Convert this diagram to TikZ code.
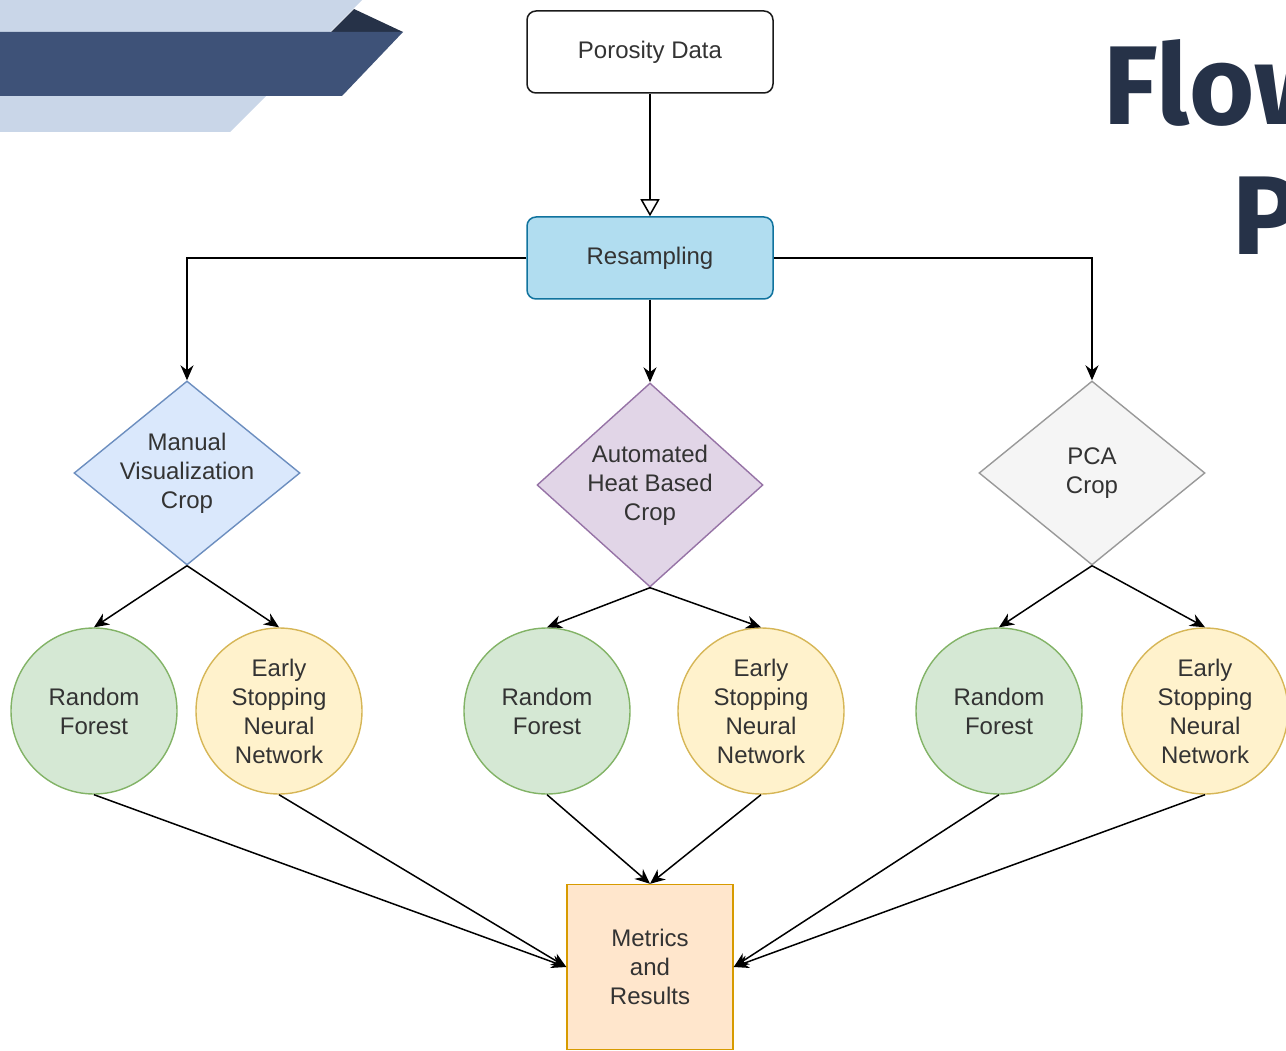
\documentclass[tikz,border=0pt]{standalone}
\usepackage{fontspec}
\setmainfont{Liberation Sans}
\newfontfamily\titlefont{Fira Sans}
\usetikzlibrary{positioning,shapes.geometric,arrows.meta}

\definecolor{bandlight}{HTML}{C9D6E8}
\definecolor{banddark}{HTML}{3E5278}
\definecolor{navy}{HTML}{263248}
\definecolor{txtgray}{HTML}{333333}
\definecolor{porline}{HTML}{1A1A1A}
\definecolor{resline}{HTML}{10739E}
\definecolor{resfill}{HTML}{B1DDF0}
\definecolor{manline}{HTML}{6C8EBF}
\definecolor{manfill}{HTML}{DAE8FC}
\definecolor{heatline}{HTML}{9673A6}
\definecolor{heatfill}{HTML}{E1D5E7}
\definecolor{pcaline}{HTML}{999999}
\definecolor{pcafill}{HTML}{F5F5F5}
\definecolor{rfline}{HTML}{82B366}
\definecolor{rffill}{HTML}{D5E8D4}
\definecolor{nnline}{HTML}{D6B656}
\definecolor{nnfill}{HTML}{FFF2CC}
\definecolor{metline}{HTML}{D79B00}
\definecolor{metfill}{HTML}{FFE6CC}

\begin{document}
\begin{tikzpicture}[x=1pt,y=-1pt]
\tikzset{
  txt/.style={font=\fontsize{24}{29}\selectfont, text=txtgray, align=center},
  rbox/.style={draw=#1, line width=1.5pt, rounded corners=9pt, minimum width=246pt, minimum height=82pt, txt},
  crop/.style={diamond, draw=#1, line width=1.4pt, minimum width=226pt, minimum height=184pt, inner sep=0pt},
  model/.style={circle, draw=#1, line width=1.4pt, minimum size=166pt, inner sep=0pt, txt},
  conn/.style={line width=1.5pt, -{Stealth[length=15pt,width=13pt]}}
}
\useasboundingbox (0,0) rectangle (1286,1051);
\clip (0,0) rectangle (1286,1051);

% banner
\fill[bandlight] (0,0) -- (362,0) -- (230,132) -- (0,132) -- cycle;
\fill[navy] (331,32) -- (354,9) -- (403,32) -- cycle;
\fill[banddark] (0,32) -- (403,32) -- (342,96) -- (0,96) -- cycle;
\node[anchor=base west, inner sep=0pt, text=navy, font=\titlefont\bfseries\fontsize{112}{112}\selectfont] (ttl1) at (1103,125) {Flow};
\node[anchor=base west, inner sep=0pt, text=navy, font=\titlefont\bfseries\fontsize{112}{112}\selectfont] (ttl2) at (1232,255) {P};

\node[rbox=porline, fill=white] (por) at (650,52) {Porosity Data};
\node[rbox=resline, fill=resfill] (res) at (650,258) {Resampling};

\node[crop=manline, fill=manfill, label={[txt]center:Manual\\Visualization\\Crop}] (man) at (187,473) {};
\node[crop=heatline, fill=heatfill, minimum height=204pt, label={[txt]center:Automated\\Heat Based\\Crop}] (heat) at (650,485) {};
\node[crop=pcaline, fill=pcafill, label={[txt]center:PCA\\Crop}] (pca) at (1092,473) {};

\node[model=rfline, fill=rffill] (rf1) at (94,711) {Random\\Forest};
\node[model=nnline, fill=nnfill] (nn1) at (279,711) {Early\\Stopping\\Neural\\Network};
\node[model=rfline, fill=rffill] (rf2) at (547,711) {Random\\Forest};
\node[model=nnline, fill=nnfill] (nn2) at (761,711) {Early\\Stopping\\Neural\\Network};
\node[model=rfline, fill=rffill] (rf3) at (999,711) {Random\\Forest};
\node[model=nnline, fill=nnfill] (nn3) at (1205,711) {Early\\Stopping\\Neural\\Network};

\node[draw=metline, line width=1.4pt, fill=metfill, minimum width=166pt, minimum height=165pt, txt] (met) at (650,967) {Metrics\\and\\Results};

\draw[line width=1.5pt, -{Triangle[open,length=17pt,width=19pt]}] (por) -- (res);
\draw[conn] (res.west) -| (man.north);
\draw[conn] (res) -- (heat.north);
\draw[conn] (res.east) -| (pca.north);

\draw[conn] (man.south) -- (rf1.north);
\draw[conn] (man.south) -- (nn1.north);
\draw[conn] (heat.south) -- (rf2.north);
\draw[conn] (heat.south) -- (nn2.north);
\draw[conn] (pca.south) -- (rf3.north);
\draw[conn] (pca.south) -- (nn3.north);

\draw[conn] (rf1.south) -- (met.west);
\draw[conn] (nn1.south) -- (met.west);
\draw[conn] (rf2.south) -- (met.north);
\draw[conn] (nn2.south) -- (met.north);
\draw[conn] (rf3.south) -- (met.east);
\draw[conn] (nn3.south) -- (met.east);

\end{tikzpicture}
\end{document}
